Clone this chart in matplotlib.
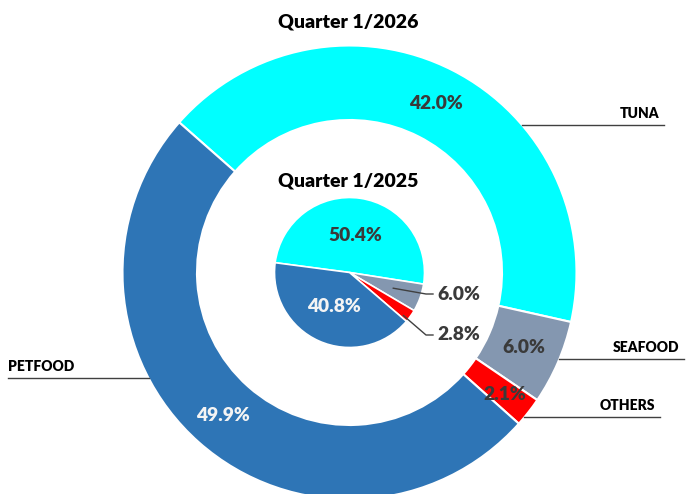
import matplotlib.pyplot as plt
import numpy as np

categories = ['TUNA', 'SEAFOOD', 'OTHERS', 'PETFOOD']
q1_2026 = [42.0, 6.0, 2.1, 49.9]
q1_2025 = [50.4, 6.0, 2.8, 40.8]
colors = ['#00FFFF', '#8497B0', '#FF0000', '#2E75B6']
pct_colors = ['#3a3a3a', '#3a3a3a', '#3a3a3a', '#f4f4f4']

FONT = 'Lato'
WEIGHT = 'heavy'
PCT_SIZE = 13.8
W, H = 686, 494
CX, CY = 349.5, 272.5    # pie centre in pixels
SCALE = 227.0            # pixels per data unit (outer radius = 1)
R_HOLE = 152.5 / SCALE
R_IN = 75.0 / SCALE


def px(x, y):
    # pixel position -> data coords
    return (x - CX) / SCALE, (CY - y) / SCALE


fig = plt.figure(figsize=(W / 100, H / 100), dpi=100)
ax = fig.add_axes([0, 0, 1, 1])

# outer ring, Quarter 1/2026
outer, _ = ax.pie(q1_2026, radius=1.0, colors=colors, startangle=138.6,
                  counterclock=False,
                  wedgeprops=dict(width=1.0 - R_HOLE, edgecolor='white', linewidth=1.5))

# inner pie, Quarter 1/2025
inner, _ = ax.pie(q1_2025, radius=R_IN, colors=colors, startangle=172.5,
                  counterclock=False,
                  wedgeprops=dict(edgecolor='white', linewidth=1.2))

ax.set_xlim(-CX / SCALE, (W - CX) / SCALE)
ax.set_ylim(-(H - CY) / SCALE, CY / SCALE)
ax.set_aspect('auto')
ax.axis('off')


def mid_angle(w):
    return np.deg2rad((w.theta1 + w.theta2) / 2)


# percentage labels in the ring
ring_r = [0.835, 0.835, 0.87, 0.84]
for w, v, c, r in zip(outer, q1_2026, pct_colors, ring_r):
    a = mid_angle(w)
    ax.text(r * np.cos(a), r * np.sin(a), f'{v:.1f}%', ha='center', va='center',
            color=c, fontsize=PCT_SIZE, fontweight=WEIGHT, family=FONT)

# percentage labels in the inner pie (big slices inside, small ones outside)
for w, v, c in zip(inner, q1_2025, pct_colors):
    a = mid_angle(w)
    if v > 10:
        r = 0.5 * R_IN
        ax.text(r * np.cos(a), r * np.sin(a), f'{v:.1f}%', ha='center', va='center',
                color=c, fontsize=PCT_SIZE, fontweight=WEIGHT, family=FONT)

# leader lines for the small inner slices
small = [(1, 0.62, 294), (2, 0.92, 335)]
for idx, frac, ty in small:
    w = inner[idx]
    a = mid_angle(w)
    if idx == 2:
        a = np.deg2rad(w.theta1 + 0.2 * (w.theta2 - w.theta1))
    x0, y0 = frac * R_IN * np.cos(a), frac * R_IN * np.sin(a)
    xe, ye = px(426, ty)
    xt, _ = px(433, ty)
    ax.plot([x0, xe, xt], [y0, ye, ye], color='#404040', lw=1.0)
    ax.text(px(437, ty)[0], ye, f'{q1_2025[idx]:.1f}%', ha='left', va='center',
            color='#3a3a3a', fontsize=PCT_SIZE, fontweight=WEIGHT, family=FONT)

# category labels with horizontal leader lines from the outer edge
cat_lines = {
    'TUNA': (125.3, 664, 'right'),
    'SEAFOOD': (359.3, 684, 'right'),
    'OTHERS': (417.3, 660, 'right'),
    'PETFOOD': (378.0, 8, 'left'),
}
for name, (ly, xend, side) in cat_lines.items():
    y = (CY - ly) / SCALE
    xedge = np.sqrt(1 - y ** 2)
    xe = (xend - CX) / SCALE
    if side == 'right':
        ax.plot([xedge, xe], [y, y], color='#404040', lw=1.0)
        ax.text(xe - 5 / SCALE, y + 5 / SCALE, name, ha='right', va='bottom',
                fontsize=10, fontweight=WEIGHT, family=FONT, color='black')
    else:
        ax.plot([xe, -xedge], [y, y], color='#404040', lw=1.0)
        ax.text(xe, y + 5 / SCALE, name, ha='left', va='bottom',
                fontsize=10, fontweight=WEIGHT, family=FONT, color='black')

# titles
ax.text(*px(348, 22.5), 'Quarter 1/2026', ha='center', va='center',
        fontsize=14, fontweight=WEIGHT, family=FONT, color='black')
ax.text(*px(348, 181), 'Quarter 1/2025', ha='center', va='center',
        fontsize=14, fontweight=WEIGHT, family=FONT, color='black')

fig.savefig('out.png', dpi=100, facecolor='white')
